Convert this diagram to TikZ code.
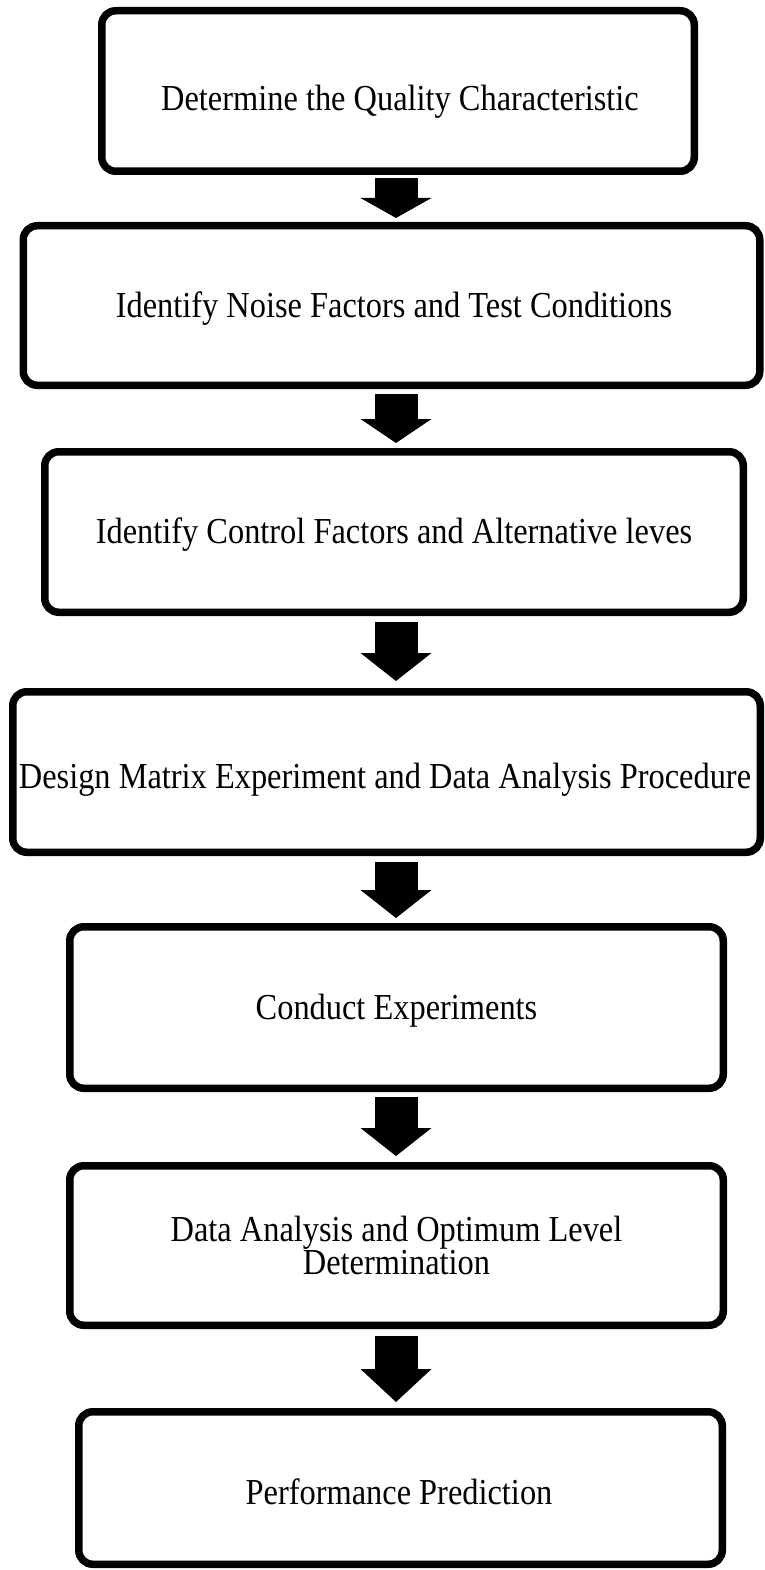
\documentclass[tikz,border=0pt]{standalone}
\usepackage{fontspec}
\setmainfont{Liberation Serif}[FakeStretch=0.885]
\usetikzlibrary{arrows.meta}
\begin{document}
\begin{tikzpicture}[x=1pt,y=-1pt,
  stepbox/.style={draw, line width=7.5pt, rounded corners=14pt, inner sep=0pt, fill=white},
  steptext/.style={font=\fontsize{36.6pt}{32pt}\selectfont, inner sep=0pt, anchor=base, align=center},
  flow/.style={line width=43pt, -{Triangle[width=71pt,length=#1,line width=0pt]}},
]
\useasboundingbox (0,0) rectangle (764,1570);
\fill[white] (0,0) rectangle (764,1570);
\coordinate (ax) at (396,0);

% process steps
\node[stepbox, minimum width=592.5pt, minimum height=160.5pt] (b1) at (398,91) {};
\node[steptext] (t1) at (400,111) {Determine the Quality Characteristic};

\node[stepbox, minimum width=736.5pt, minimum height=159.5pt] (b2) at (391.5,305.5) {};
\node[steptext] (t2) at (394,317.5) {Identify Noise Factors and Test Conditions};

\node[stepbox, minimum width=698.5pt, minimum height=160.5pt] (b3) at (394,532) {};
\node[steptext] (t3) at (394,543.5) {Identify Control Factors and Alternative leves};

\node[stepbox, minimum width=747.5pt, minimum height=160.5pt] (b4) at (386.5,772) {};
\node[steptext] (t4) at (385,788) {Design Matrix Experiment and Data Analysis Procedure};

\node[stepbox, minimum width=653.5pt, minimum height=161.5pt] (b5) at (396.5,1007.5) {};
\node[steptext] (t5) at (396.5,1019) {Conduct Experiments};

\node[stepbox, minimum width=653.5pt, minimum height=159.5pt] (b6) at (396.5,1245.5) {};
\node[steptext, anchor=center] (t6) at (b6.center) {Data Analysis and Optimum Level\\Determination};

\node[stepbox, minimum width=643.5pt, minimum height=152.5pt] (b7) at (400.5,1488) {};
\node[steptext] (t7) at (399,1504.5) {Performance Prediction};

% block arrows between steps
\draw[flow=20pt] ([yshift=-3pt]b1.south -| ax) -- ([yshift=4pt]b2.north -| ax);
\draw[flow=24pt] ([yshift=-5pt]b2.south -| ax) -- ([yshift=5pt]b3.north -| ax);
\draw[flow=28pt] ([yshift=-6pt]b3.south -| ax) -- ([yshift=7pt]b4.north -| ax);
\draw[flow=28pt] ([yshift=-6pt]b4.south -| ax) -- ([yshift=5pt]b5.north -| ax);
\draw[flow=28pt] ([yshift=-5pt]b5.south -| ax) -- ([yshift=6pt]b6.north -| ax);
\draw[flow=33pt] ([yshift=-7pt]b6.south -| ax) -- ([yshift=6pt]b7.north -| ax);
\end{tikzpicture}
\end{document}
